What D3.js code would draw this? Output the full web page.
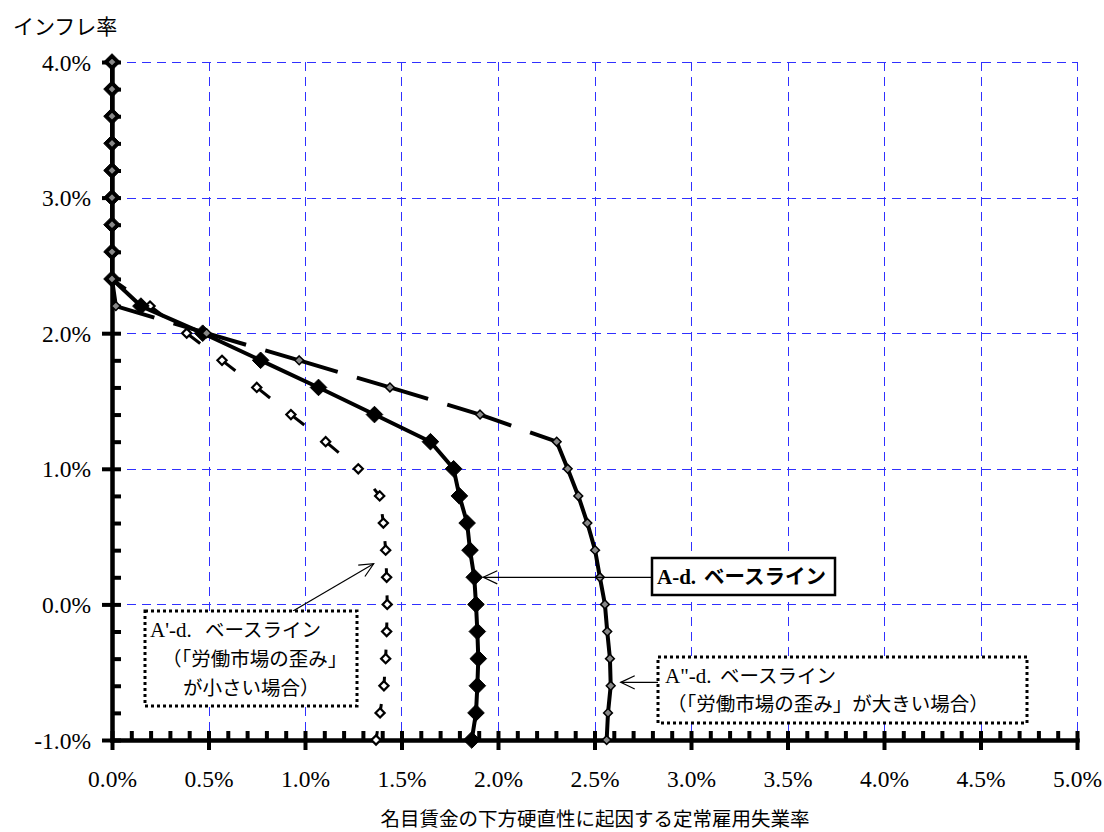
<!DOCTYPE html>
<html><head><meta charset="utf-8">
<script src="https://cdn.jsdelivr.net/npm/d3@7"></script>
<style>
body{margin:0;background:#fff;}
svg text{font-family:"Liberation Serif","Noto Sans CJK JP",serif;fill:#000;}
</style></head><body>
<svg id="c" width="1104" height="832"></svg>
<script>
// ---- data (percent) ----
const inflation = [4.0,3.8,3.6,3.4,3.2,3.0,2.8,2.6,2.4,2.2,2.0,1.8,1.6,1.4,1.2,1.0,0.8,0.6,0.4,0.2,0.0,-0.2,-0.4,-0.6,-0.8,-1.0];
const baselineAd = [0,0,0,0,0,0,0,0,0,0.15,0.47,0.77,1.07,1.36,1.65,1.77,1.80,1.84,1.855,1.877,1.886,1.893,1.898,1.893,1.886,1.864];
const smallDistortion = [0,0,0,0,0,0,0,0,0,0.197,0.387,0.57,0.75,0.927,1.107,1.276,1.387,1.406,1.418,1.423,1.426,1.423,1.418,1.409,1.389,1.368];
const largeDistortion = [0,0,0,0,0,0,0,0,0,0.02,0.49,0.97,1.44,1.907,2.304,2.361,2.416,2.463,2.503,2.528,2.554,2.566,2.58,2.584,2.57,2.563];
const xTicks = [0,0.5,1.0,1.5,2.0,2.5,3.0,3.5,4.0,4.5,5.0];
const yTicks = [-1,0,1,2,3,4];
const xMinorStep = 0.1, yMinorStep = 0.2;
const yTitle = "インフレ率";
const xTitle = "名目賃金の下方硬直性に起因する定常雇用失業率";

const svg = d3.select("#c");
const x = d3.scaleLinear([0,5],[112,1077]);
const y = d3.scaleLinear([-1,4],[740,62]);
const fmt = d => d.toFixed(1) + "%";

// grid
const grid = svg.append("g").attr("stroke","#3030ff").attr("stroke-width",1).attr("stroke-dasharray","9,6").attr("shape-rendering","crispEdges");
grid.selectAll(".v").data(xTicks.filter(d=>d>0)).join("line")
  .attr("x1",d=>Math.round(x(d))+0.5).attr("x2",d=>Math.round(x(d))+0.5).attr("y1",y(4)).attr("y2",y(-1));
grid.selectAll(".h").data(yTicks.filter(d=>d>-1)).join("line")
  .attr("y1",d=>Math.round(y(d))+0.5).attr("y2",d=>Math.round(y(d))+0.5).attr("x1",x(0)).attr("x2",x(5));

// axes
const xMinor = d3.range(0,5.0001,xMinorStep).map(v=>+v.toFixed(2)).filter(v=>!xTicks.some(t=>Math.abs(t-v)<1e-6));
const yMinor = d3.range(-1,4.0001,yMinorStep).map(v=>+v.toFixed(2)).filter(v=>!yTicks.some(t=>Math.abs(t-v)<1e-6));

function styleAxis(g){
  g.select(".domain").attr("stroke","#000").attr("stroke-width",4);
  g.selectAll(".tick line").attr("stroke","#000").attr("stroke-width",4);
}
const gx = svg.append("g").attr("transform",`translate(0,${y(-1)})`);
gx.append("g").call(d3.axisBottom(x).tickValues(xMinor).tickSize(-9).tickSizeOuter(0).tickFormat("")).call(styleAxis);
const gxM = gx.append("g").call(d3.axisBottom(x).tickValues(xTicks).tickSize(10).tickSizeOuter(0).tickFormat(fmt)).call(styleAxis);
gxM.selectAll(".tick line").attr("y1",-9);
gxM.selectAll(".tick text").attr("y",47).attr("dy",null).attr("font-size",23.5)
  .attr("font-family","Liberation Serif").attr("fill","#000");

const gy = svg.append("g").attr("transform",`translate(${x(0)},0)`);
gy.append("g").call(d3.axisLeft(y).tickValues(yMinor).tickSize(-9).tickSizeOuter(0).tickFormat("")).call(styleAxis);
const gyM = gy.append("g").call(d3.axisLeft(y).tickValues(yTicks).tickSize(10).tickSizeOuter(0).tickFormat(fmt)).call(styleAxis);
gyM.selectAll(".tick line").attr("x1",9);
gyM.selectAll(".tick text").attr("x",-21).attr("dy","0.34em").attr("font-size",23.5)
  .attr("font-family","Liberation Serif").attr("fill","#000");
svg.selectAll(".domain").attr("stroke-linecap","square");

// titles
svg.append("text").attr("x",13).attr("y",34).attr("font-size",21)
  .style("font-family","'Noto Sans CJK JP'").text(yTitle);
svg.append("text").attr("x",595).attr("y",826).attr("text-anchor","middle").attr("font-size",19.5)
  .style("font-family","'Noto Sans CJK JP'").text(xTitle);

const diamond = r => `M0,${-r}L${r},0L0,${r}L${-r},0Z`;
const pts = arr => arr.map((v,i)=>[x(v), y(inflation[i])]);

// A' series (small distortion): short dashes
const pS = pts(smallDistortion);
const gS = svg.append("g");
for(let i=0;i<pS.length-1;i++){
  const [x1,y1]=pS[i],[x2,y2]=pS[i+1];
  const L=Math.hypot(x2-x1,y2-y1);
  if(L<1) continue;
  const da = L>35 ? `17,${L}` : `0,${Math.max(L-9,0)},9,${L}`;
  gS.append("line").attr("x1",x1).attr("y1",y1).attr("x2",x2).attr("y2",y2)
    .attr("stroke","#000").attr("stroke-width",3).attr("stroke-dasharray",da);
}
gS.selectAll("path").data(pS).join("path").attr("d",diamond(4.6))
  .attr("transform",d=>`translate(${d[0]},${d[1]})`)
  .attr("fill","#fff").attr("stroke","#000").attr("stroke-width",2.2);

// A-d baseline
const pA = pts(baselineAd);
svg.append("path").attr("d",d3.line()(pA)).attr("fill","none").attr("stroke","#000")
  .attr("stroke-width",4).attr("stroke-linejoin","round");
svg.append("g").selectAll("path").data(pA).join("path").attr("d",diamond(8.3))
  .attr("transform",d=>`translate(${d[0]},${d[1]})`)
  .attr("fill","#000").attr("stroke","#000").attr("stroke-width",1);

// A'' series (large distortion): long dashes restarting per segment
const pL = pts(largeDistortion);
const gL = svg.append("g");
for(let i=0;i<pL.length-1;i++){
  const [x1,y1]=pL[i],[x2,y2]=pL[i+1];
  const L=Math.hypot(x2-x1,y2-y1);
  if(L<0.5) continue;
  let da = null;
  if(L>50){ const g0=0.53*L-10; da=`${g0},20,${L}`; }
  gL.append("line").attr("x1",x1).attr("y1",y1).attr("x2",x2).attr("y2",y2)
    .attr("stroke","#000").attr("stroke-width",4).attr("stroke-linecap", da? "butt":"round")
    .attr("stroke-dasharray",da);
}
gL.selectAll("path").data(pL).join("path").attr("d",diamond(4.4))
  .attr("transform",d=>`translate(${d[0]},${d[1]})`)
  .attr("fill","#888").attr("stroke","#000").attr("stroke-width",1.5);

// annotations
const FS = 19.5;
function arrow(x1,y1,x2,y2){
  const a=Math.atan2(y2-y1,x2-x1), len=15.5, h=0.44;
  svg.append("line").attr("x1",x1).attr("y1",y1).attr("x2",x2).attr("y2",y2)
    .attr("stroke","#000").attr("stroke-width",1.2);
  svg.append("path").attr("d",`M${x2-len*Math.cos(a-h)},${y2-len*Math.sin(a-h)}L${x2},${y2}L${x2-len*Math.cos(a+h)},${y2-len*Math.sin(a+h)}`)
    .attr("fill","none").attr("stroke","#000").attr("stroke-width",1.2);
}
function box(x0,y0,x1,y1,dotted){
  svg.append("rect").attr("x",x0).attr("y",y0).attr("width",x1-x0).attr("height",y1-y0)
    .attr("fill","#fff").attr("stroke","#000").attr("stroke-width",dotted?3:2.5)
    .attr("stroke-dasharray",dotted?"3,3":null);
}
function label(xl,yb,latin,xj,jp,bold){
  const t=svg.append("text").attr("y",yb).attr("font-size",bold?20.5:FS).attr("font-weight",bold?"bold":null);
  t.append("tspan").attr("x",xl).attr("font-size",21).style("font-family","'Liberation Serif'").text(latin);
  t.append("tspan").attr("x",xj).style("font-family","'Noto Sans CJK JP'").text(jp);
}
function jline(xs,yb,s){
  svg.append("text").attr("x",xs).attr("y",yb).attr("font-size",FS)
    .style("font-family","'Noto Sans CJK JP'").text(s);
}

// A-d
const iA = inflation.indexOf(0.2);
arrow(652, y(0.2), x(baselineAd[iA])+9, y(0.2));
box(652,558,835,595,false);
label(657,584,"A-d.",704,"ベースライン",true);

// A''
const iL = inflation.indexOf(-0.6);
arrow(658, y(-0.575), x(largeDistortion[iL])+10, y(-0.575));
box(658,657,1027,723,true);
label(665,682.5,'A"-d.',720,"ベースライン",false);
jline(667,711,"（「労働市場の歪み」が大きい場合）");

// A'
const iS = inflation.indexOf(0.4);
arrow(293,611, x(smallDistortion[iS])-12, y(0.3));
box(145,611,357,706,true);
label(150,637,"A'-d.",205,"ベースライン",false);
jline(162,666,"（「労働市場の歪み」");
jline(183,694.5,"が小さい場合）");
</script></body></html>
